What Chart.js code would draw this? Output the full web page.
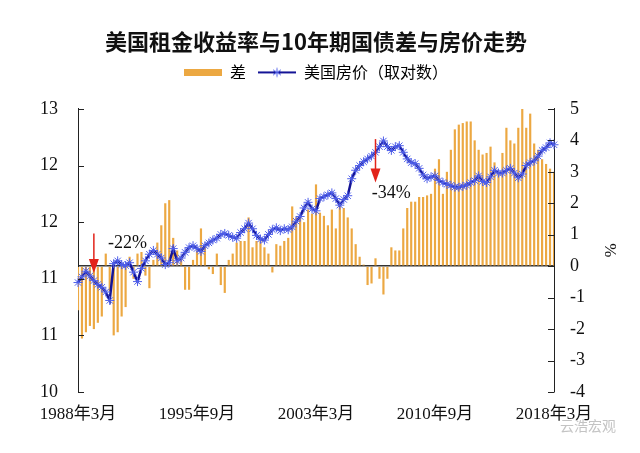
<!DOCTYPE html>
<html>
<head>
<meta charset="utf-8">
<script src="https://cdn.jsdelivr.net/npm/chart.js@4.4.0/dist/chart.umd.min.js"></script>
<style>
    html, body { margin: 0; padding: 0; background: #fff; }
    #wrap { position: relative; width: 640px; height: 453px; }
    #mark { position: absolute; left: 560px; top: 415px; font: 14px "Noto Sans CJK SC"; color: #c4c4c4; }
</style>
</head>
<body>
<div id="wrap">
    <canvas id="chart" width="640" height="453"></canvas>
    <div id="mark">云浩宏观</div>
</div>
<script>
// quarterly, 1988年3月 .. 2018年3月
const quarters = [];
for (let y = 1988; y <= 2018; y++) {
    for (const m of [3, 6, 9, 12]) {
        if (y === 2018 && m > 3) break;
        quarters.push(`${y}年${m}月`);
    }
}

// 租金收益率 - 10年期国债 (%), right axis
const spread = [
    -1.4, -2.3, -2.1, -1.9, -2.0, -1.8, -1.6, 0.4, -0.8, -2.2,
    -2.1, -1.6, -1.3, 0.3, -0.4, 0.4, 0.45, -0.3, -0.7, 0.2,
    0.75, 1.3, 2.0, 2.1, 0.9, 0.5, 0.3, -0.75, -0.75, 0.2,
    0.5, 1.2, 0.6, -0.1, -0.25, 0.4, -0.6, -0.85, 0.2, 0.4,
    0.75, 0.8, 0.8, 1.55, 0.6, 0.8, 0.8, 0.6, 0.4, -0.2,
    0.7, 0.65, 0.8, 0.9, 1.9, 1.55, 1.55, 1.4, 1.8, 1.67,
    2.6, 1.7, 1.6, 1.3, 1.8, 1.2, 1.9, 1.85, 1.55, 1.2,
    0.7, 0.3, 0.05, -0.6, -0.55, 0.25, -0.4, -0.9, -0.4, 0.6,
    0.5, 0.5, 1.2, 1.85, 2.05, 2.05, 2.2, 2.2, 2.25, 2.3,
    3.1, 3.4, 2.3, 3.0, 3.7, 4.35, 4.5, 4.55, 4.6, 4.6,
    4.0, 3.7, 3.55, 3.6, 3.8, 3.3, 3.0, 3.6, 4.4, 4.0,
    3.9, 4.4, 5.0, 4.4, 4.85, 3.9, 3.7, 3.4, 3.25, 3.1,
    3.0
];

// 美国房价 (取对数), left axis
const housePrice = [
    11.16, 11.22, 11.28, 11.23, 11.18, 11.14, 11.11, 11.06, 10.97, 11.36,
    11.39, 11.35, 11.34, 11.37, 11.27, 11.17, 11.31, 11.39, 11.46, 11.50,
    11.46, 11.42, 11.35, 11.37, 11.52, 11.39, 11.42, 11.48, 11.53, 11.55,
    11.52, 11.49, 11.55, 11.58, 11.61, 11.63, 11.67, 11.68, 11.66, 11.64,
    11.63, 11.69, 11.73, 11.79, 11.73, 11.66, 11.62, 11.61, 11.67, 11.72,
    11.74, 11.71, 11.73, 11.72, 11.75, 11.81, 11.86, 11.95, 12.01, 11.94,
    11.92, 12.05, 12.07, 12.09, 12.11, 12.05, 11.98, 12.04, 12.08, 12.26,
    12.35, 12.40, 12.44, 12.47, 12.50, 12.54, 12.60, 12.66, 12.60, 12.56,
    12.60, 12.61, 12.54, 12.47, 12.43, 12.42, 12.37, 12.30, 12.26, 12.28,
    12.29, 12.24, 12.22, 12.20, 12.19, 12.17, 12.17, 12.18, 12.19, 12.22,
    12.24, 12.29, 12.23, 12.22, 12.28, 12.35, 12.32, 12.32, 12.35, 12.37,
    12.32, 12.27, 12.31, 12.40, 12.43, 12.45, 12.50, 12.56, 12.59, 12.64,
    12.62
];

// left axis labels as printed (0 decimals on a 0.6 step)
const leftTickLabels = ['10', '11', '11', '12', '12', '13'];
const xTickEvery = 30;

// red arrows + drop labels (positions in data units, left axis)
const arrows = [
    { index: 4, from: 11.68, to: 11.26 },
    { index: 75, from: 12.68, to: 12.22 }
];
const dropLabels = [
    { index: 12.5, value: 11.58, text: '-22%' },
    { index: 79, value: 12.11, text: '-34%' }
];

const barColor = '#eca842';
const lineColor = '#141496';
const starColor = '#5060ea';

// legend icons
function makeBarIcon() {
    const c = document.createElement('canvas');
    c.width = 38; c.height = 7;
    const g = c.getContext('2d');
    g.fillStyle = barColor;
    g.fillRect(0, 0, 38, 7);
    return c;
}
function makeLineIcon() {
    const c = document.createElement('canvas');
    c.width = 38; c.height = 12;
    const g = c.getContext('2d');
    g.strokeStyle = lineColor;
    g.lineWidth = 2;
    g.beginPath(); g.moveTo(0, 6); g.lineTo(38, 6); g.stroke();
    g.strokeStyle = starColor;
    g.lineWidth = 1;
    g.beginPath();
    g.moveTo(19, 1.5); g.lineTo(19, 10.5);
    g.moveTo(15, 3.5); g.lineTo(23, 8.5);
    g.moveTo(15, 8.5); g.lineTo(23, 3.5);
    g.stroke();
    return c;
}
const barIcon = makeBarIcon();
const lineIcon = makeLineIcon();

const extras = {
    id: 'extras',
    afterDatasetsDraw(chart) {
        const { ctx, chartArea, scales } = chart;
        const xs = scales.x, yl = scales.y, yr = scales.y1;
        ctx.save();

        // inward tick marks
        ctx.strokeStyle = '#222';
        ctx.lineWidth = 1;
        ctx.beginPath();
        yl.ticks.forEach((t, i) => {
            const py = Math.round(yl.getPixelForTick(i)) + 0.5;
            ctx.moveTo(chartArea.left, py);
            ctx.lineTo(chartArea.left + 6, py);
        });
        yr.ticks.forEach((t, i) => {
            const py = Math.round(yr.getPixelForTick(i)) + 0.5;
            ctx.moveTo(chartArea.right - 6, py);
            ctx.lineTo(chartArea.right, py);
        });
        ctx.stroke();

        // arrows
        ctx.strokeStyle = '#e2231a';
        ctx.fillStyle = '#e2231a';
        arrows.forEach(a => {
            const px = xs.getPixelForValue(a.index);
            const top = yl.getPixelForValue(a.from);
            const tip = yl.getPixelForValue(a.to);
            ctx.lineWidth = 1.5;
            ctx.beginPath();
            ctx.moveTo(px, top);
            ctx.lineTo(px, tip - 12);
            ctx.stroke();
            ctx.beginPath();
            ctx.moveTo(px - 5, tip - 14);
            ctx.lineTo(px + 5, tip - 14);
            ctx.lineTo(px, tip);
            ctx.closePath();
            ctx.fill();
        });

        // labels
        ctx.fillStyle = '#111';
        ctx.font = '18px "Liberation Serif"';
        ctx.textAlign = 'center';
        ctx.textBaseline = 'middle';
        dropLabels.forEach(l => {
            ctx.fillText(l.text, xs.getPixelForValue(l.index), yl.getPixelForValue(l.value));
        });
        ctx.restore();
    }
};

const serif = '"Liberation Serif", "Noto Sans CJK SC"';

new Chart(document.getElementById('chart').getContext('2d'), {
    data: {
        labels: quarters,
        datasets: [{
            type: 'line',
            label: '美国房价（取对数）',
            data: housePrice,
            yAxisID: 'y',
            borderColor: lineColor,
            borderWidth: 2.5,
            pointStyle: 'star',
            pointRadius: 4.5,
            pointBorderColor: starColor,
            pointBorderWidth: 1,
            pointBackgroundColor: starColor,
            tension: 0,
            order: 0
        }, {
            type: 'bar',
            label: '差',
            data: spread,
            yAxisID: 'y1',
            backgroundColor: barColor,
            barPercentage: 0.55,
            categoryPercentage: 1,
            order: 1
        }]
    },
    options: {
        responsive: false,
        animation: false,
        layout: { padding: { left: 20, right: 20, top: 16, bottom: 12 } },
        plugins: {
            title: {
                display: true,
                fullSize: false,
                text: '美国租金收益率与10年期国债差与房价走势',
                color: '#111',
                font: { family: '"Noto Sans CJK SC"', size: 22, weight: 'bold' },
                padding: { top: 12, bottom: -2 }
            },
            subtitle: {
                // spacer between legend and plot
                display: true,
                fullSize: false,
                weight: 500,
                text: ' ',
                font: { size: 1, lineHeight: 1 },
                padding: { top: 0, bottom: 17.5 }
            },
            legend: {
                display: true,
                fullSize: false,
                labels: {
                    usePointStyle: true,
                    pointStyleWidth: 38,
                    color: '#111',
                    font: { family: '"Noto Sans CJK SC"', size: 16 },
                    padding: 12,
                    generateLabels: () => [
                        { text: '差', pointStyle: barIcon, fillStyle: barColor, strokeStyle: barColor, lineWidth: 0, hidden: false, datasetIndex: 1 },
                        { text: '美国房价（取对数）', pointStyle: lineIcon, fillStyle: lineColor, strokeStyle: lineColor, lineWidth: 0, hidden: false, datasetIndex: 0 }
                    ]
                }
            },
            tooltip: { enabled: false }
        },
        scales: {
            x: {
                type: 'category',
                offset: false,
                grid: { display: false },
                border: { display: false },
                ticks: {
                    autoSkip: false,
                    maxRotation: 0,
                    padding: 4,
                    color: '#111',
                    font: { family: serif, size: 17 },
                    callback: (v, i) => (i % xTickEvery === 0 ? quarters[i] : null)
                },
                afterFit: s => { s.height = 49; }
            },
            y: {
                position: 'left',
                min: 10,
                max: 13,
                ticks: {
                    count: 6,
                    padding: 20,
                    color: '#111',
                    font: { family: serif, size: 18 },
                    callback: (v, i) => leftTickLabels[i]
                },
                grid: { display: false, drawTicks: false },
                border: { display: true, color: '#222', width: 1 }
            },
            y1: {
                position: 'right',
                min: -4,
                max: 5,
                ticks: {
                    stepSize: 1,
                    padding: 16,
                    color: '#111',
                    font: { family: serif, size: 18 }
                },
                grid: {
                    drawTicks: false,
                    color: ctx => (ctx.tick && ctx.tick.value === 0 ? '#333' : 'rgba(0,0,0,0)'),
                    lineWidth: 1.5
                },
                border: { display: true, color: '#222', width: 1 },
                title: {
                    display: true,
                    text: '%',
                    color: '#111',
                    font: { family: serif, size: 17 },
                    padding: 0
                },
                afterFit: s => { s.width = 66; }
            }
        }
    },
    plugins: [extras]
});
</script>
</body>
</html>
